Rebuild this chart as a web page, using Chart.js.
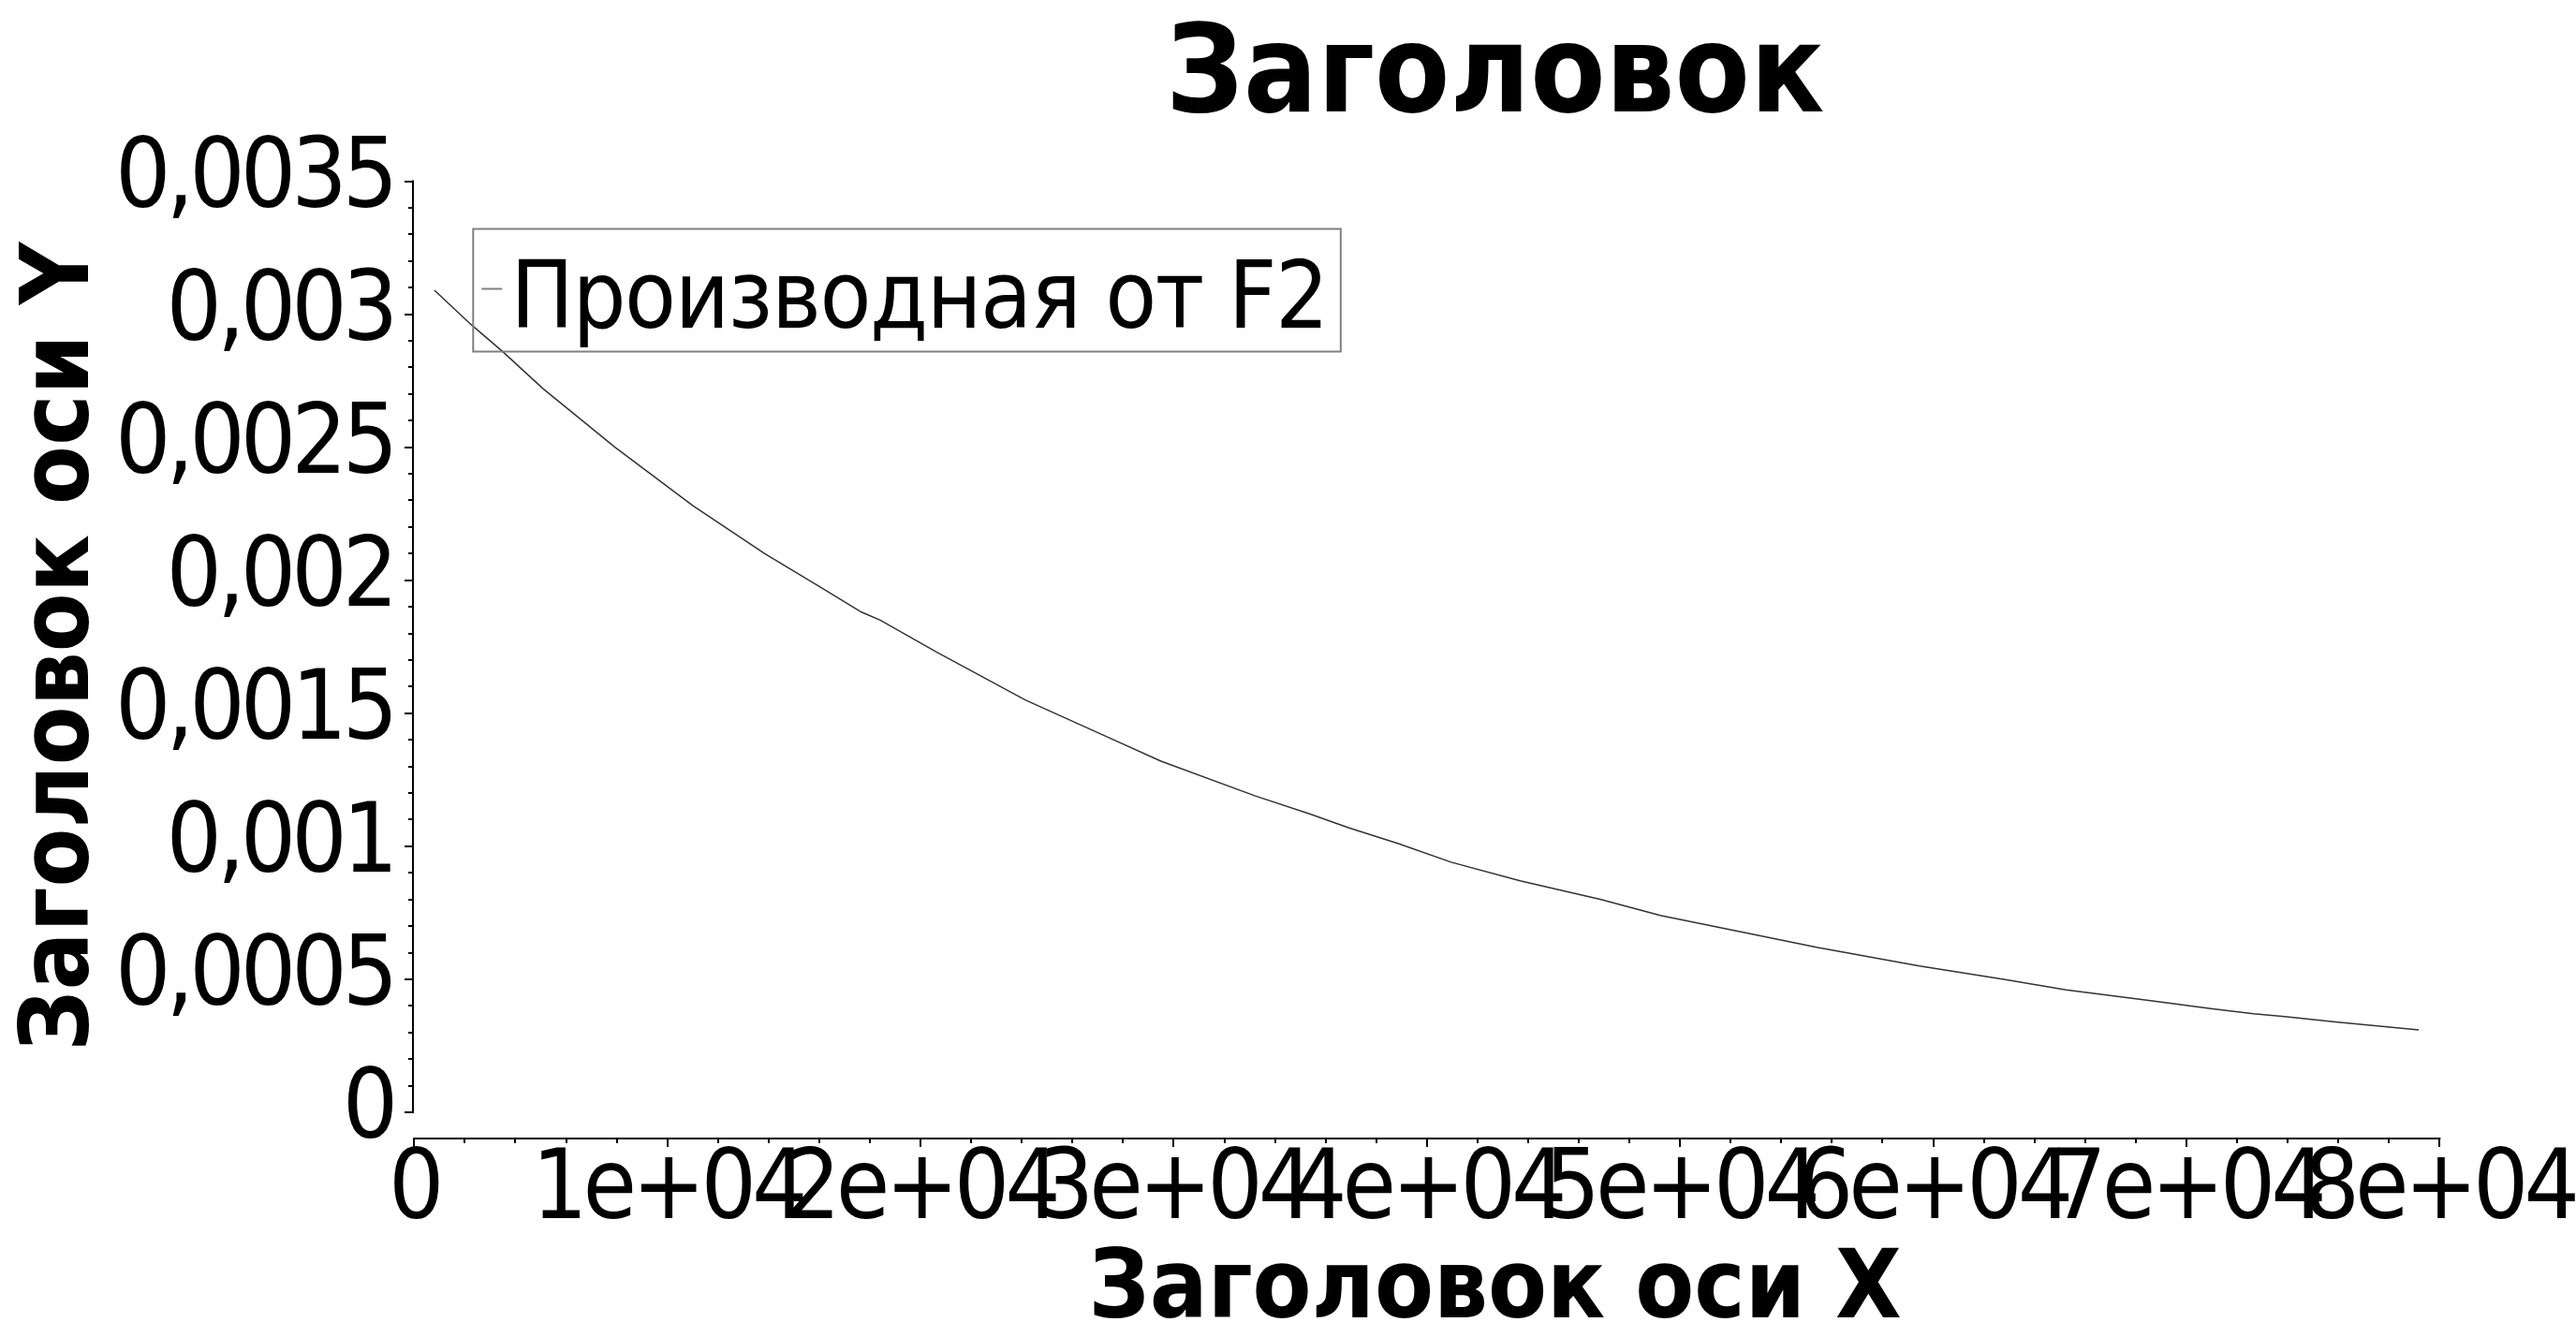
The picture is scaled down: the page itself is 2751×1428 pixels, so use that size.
<!DOCTYPE html>
<html>
<head>
<meta charset="utf-8">
<script src="https://cdn.jsdelivr.net/npm/chart.js@4.4.1/dist/chart.umd.min.js"></script>
<style>
html, body { margin: 0; padding: 0; background: #ffffff; overflow: hidden; }
canvas { display: block; }
</style>
</head>
<body>
<canvas id="c" width="2751" height="1428"></canvas>
<script>
// ---- texts ----
const chartTitle = 'Заголовок';
const xAxisTitle = 'Заголовок оси X';
const yAxisTitle = 'Заголовок оси Y';
const seriesLabel = 'Производная от F2';

// ---- series ----
const xValues = [800, 2260, 3490, 5090, 7930, 11010, 13850, 15940, 17670, 18410,
  20630, 24140, 27400, 29500, 33200, 35420, 36900, 38870, 40960, 43680,
  46880, 49220, 52310, 55390, 59460, 62790, 65250, 68580, 70960, 72650,
  73880, 75890, 79180];
const yValues = [0.00309, 0.00296, 0.00286, 0.00272, 0.00250, 0.00228, 0.00210, 0.00198, 0.00188, 0.00185,
  0.00173, 0.00155, 0.00141, 0.00132, 0.00119, 0.00112, 0.00107, 0.00101, 0.00094, 0.00087,
  0.00080, 0.00074, 0.00068, 0.00062, 0.00055, 0.00050, 0.00046, 0.00042, 0.00039, 0.00037,
  0.00036, 0.00034, 0.00031];

// ---- ticks ----
const xTickValues = [0, 10000, 20000, 30000, 40000, 50000, 60000, 70000, 80000];
const xTickLabels = ['0', '1e+04', '2e+04', '3e+04', '4e+04', '5e+04', '6e+04', '7e+04', '8e+04'];
const yTickValues = [0, 0.0005, 0.001, 0.0015, 0.002, 0.0025, 0.003, 0.0035];
const yTickLabels = ['0', '0,0005', '0,001', '0,0015', '0,002', '0,0025', '0,003', '0,0035'];
const xMinorStep = 2000;
const yMinorStep = 0.0001;

// ---- style ----
const FONT = "'DejaVu Sans Condensed', 'DejaVu Sans', sans-serif";
const LINE_COLOR = '#333333';
const LEGEND_COLOR = '#808080';
const TICK_LETTER_SPACING = '-5px';
const LEGEND_LETTER_SPACING = '-1.5px';

const points = xValues.map((x, i) => ({ x: x, y: yValues[i] }));

// tighter letter spacing for the regular-weight labels
const spacingPlugin = {
  id: 'letterSpacing',
  beforeDraw(chart) {
    const ctx = chart.ctx;
    if (ctx.__spacingWrapped) return;
    ctx.__spacingWrapped = true;
    const orig = ctx.fillText;
    ctx.fillText = function (text, x, y, mw) {
      const prev = this.letterSpacing;
      if (!this.__customSpacing && !/bold/.test(this.font)) this.letterSpacing = TICK_LETTER_SPACING;
      if (mw === undefined) orig.call(this, text, x, y); else orig.call(this, text, x, y, mw);
      this.letterSpacing = prev;
    };
  }
};

const axesPlugin = {
  id: 'customAxes',
  beforeDatasetsDraw(chart) {
    const ctx = chart.ctx;
    const xs = chart.scales.x, ys = chart.scales.y;
    const ca = chart.chartArea;
    ctx.save();
    ctx.strokeStyle = '#000000';
    ctx.lineWidth = 2;
    ctx.lineCap = 'butt';
    const yAxisX = Math.round(ca.left) - 1;
    const yFirst = yTickValues[0], yLast = yTickValues[yTickValues.length - 1];
    ctx.beginPath();
    ctx.moveTo(yAxisX, ys.getPixelForValue(yFirst) + 1);
    ctx.lineTo(yAxisX, ys.getPixelForValue(yLast) - 1);
    ctx.stroke();
    const nY = Math.round((yLast - yFirst) / yMinorStep);
    for (let i = 0; i <= nY; i++) {
      const v = yFirst + i * yMinorStep;
      const py = Math.round(ys.getPixelForValue(v));
      const len = (i % 5 === 0) ? 9 : 5;
      ctx.beginPath();
      ctx.moveTo(yAxisX, py);
      ctx.lineTo(yAxisX - len, py);
      ctx.stroke();
    }
    const xAxisY = Math.round(ca.bottom) + 28;
    const xFirst = xTickValues[0], xLast = xTickValues[xTickValues.length - 1];
    ctx.beginPath();
    ctx.moveTo(xs.getPixelForValue(xFirst) - 1, xAxisY);
    ctx.lineTo(xs.getPixelForValue(xLast) + 1, xAxisY);
    ctx.stroke();
    const nX = Math.round((xLast - xFirst) / xMinorStep);
    for (let i = 0; i <= nX; i++) {
      const v = xFirst + i * xMinorStep;
      const px = Math.round(xs.getPixelForValue(v));
      const len = (i % 5 === 0) ? 9 : 5;
      ctx.beginPath();
      ctx.moveTo(px, xAxisY);
      ctx.lineTo(px, xAxisY + len);
      ctx.stroke();
    }
    ctx.restore();
  }
};

const legendPlugin = {
  id: 'boxLegend',
  afterDatasetsDraw(chart) {
    const ctx = chart.ctx;
    const ca = chart.chartArea;
    const ds = chart.data.datasets[0];
    ctx.save();
    ctx.__customSpacing = true;
    ctx.font = 'normal 100px ' + FONT;
    ctx.letterSpacing = LEGEND_LETTER_SPACING;
    const tw = ctx.measureText(ds.label).width;
    const left = ca.left + 63, top = ca.top + 51;
    const w = 40 + tw + 14, h = 131;
    ctx.strokeStyle = LEGEND_COLOR;
    ctx.lineWidth = 2;
    ctx.strokeRect(left, top, w, h);
    ctx.beginPath();
    ctx.moveTo(left + 9, top + 64);
    ctx.lineTo(left + 31, top + 64);
    ctx.stroke();
    ctx.fillStyle = '#000000';
    ctx.textAlign = 'left';
    ctx.textBaseline = 'alphabetic';
    ctx.fillText(ds.label, left + 40, top + 105);
    ctx.__customSpacing = false;
    ctx.restore();
  }
};

const chart = new Chart(document.getElementById('c'), {
  type: 'line',
  data: {
    datasets: [{
      label: seriesLabel,
      data: points,
      borderColor: LINE_COLOR,
      borderWidth: 1.5,
      pointRadius: 0,
      tension: 0,
      fill: false
    }]
  },
  options: {
    responsive: false,
    devicePixelRatio: 1,
    animation: false,
    layout: { padding: 0 },
    plugins: {
      legend: { display: false },
      tooltip: { enabled: false },
      title: {
        display: true,
        text: chartTitle,
        fullSize: false,
        color: '#000000',
        font: { family: FONT, size: 130, weight: 'bold', lineHeight: 1.2 },
        padding: { top: 7, bottom: 30.5 }
      }
    },
    scales: {
      x: {
        type: 'linear',
        position: 'bottom',
        min: 0,
        max: 85388,
        grid: { display: false },
        border: { display: false },
        afterBuildTicks: (s) => { s.ticks = xTickValues.map(v => ({ value: v })); },
        afterFit: (s) => { s.height = 240; s.paddingLeft = 0; s.paddingRight = 0; },
        ticks: {
          autoSkip: false,
          maxRotation: 0,
          minRotation: 0,
          color: '#000000',
          padding: 26,
          font: { family: FONT, size: 104, lineHeight: 1 },
          callback: (v, i) => xTickLabels[i]
        },
        title: {
          display: true,
          text: xAxisTitle,
          color: '#000000',
          font: { family: FONT, size: 102, weight: 'bold', lineHeight: 0.93 },
          padding: { top: 0, bottom: 0 }
        }
      },
      y: {
        type: 'linear',
        position: 'left',
        min: 0,
        max: 0.0035,
        grid: { display: false },
        border: { display: false },
        afterBuildTicks: (s) => { s.ticks = yTickValues.map(v => ({ value: v })); },
        afterFit: (s) => { s.width = 442.3; s.paddingTop = 0; s.paddingBottom = 0; },
        ticks: {
          autoSkip: false,
          color: '#000000',
          padding: 14,
          font: { family: FONT, size: 104, lineHeight: 1 },
          callback: (v, i) => yTickLabels[i]
        },
        title: {
          display: true,
          text: yAxisTitle,
          color: '#000000',
          font: { family: FONT, size: 102, weight: 'bold', lineHeight: 1.2 },
          padding: { top: 6, bottom: 0 }
        }
      }
    }
  },
  plugins: [spacingPlugin, axesPlugin, legendPlugin]
});
</script>
</body>
</html>
